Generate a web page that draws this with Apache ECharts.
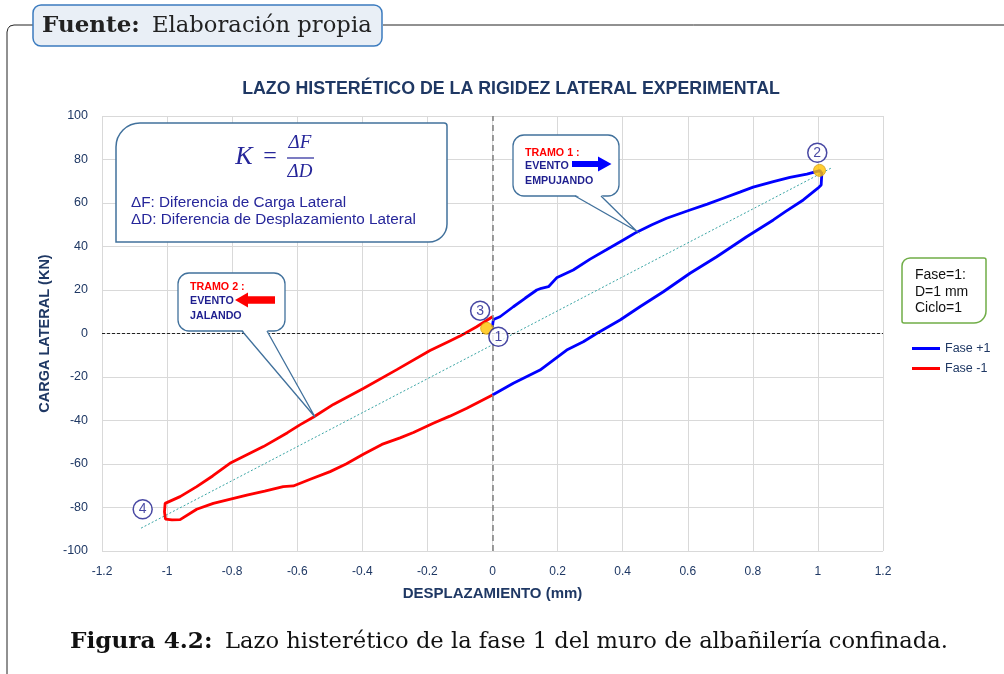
<!DOCTYPE html>
<html><head><meta charset="utf-8">
<script src="https://cdn.jsdelivr.net/npm/echarts@6/dist/echarts.min.js"></script>
<style>html,body{margin:0;padding:0;background:#fff}#c{width:1004px;height:674px}</style>
</head><body><div id="c"></div>
<script>
// ---- data ----
const xRange = [-1.2, 1.2];
const yRange = [-100, 100];
const blueUp = [[0.0,3],[0.001,4.7],[0.003,6.4],[0.023,7.7],[0.064,12.3],[0.1,16.2],[0.136,20],[0.15,20.8],[0.172,21.5],[0.197,25.6],[0.248,29.2],[0.3,34.2],[0.35,38.5],[0.402,43],[0.443,46.6],[0.49,50],[0.535,53],[0.607,56.8],[0.66,59.5],[0.709,62.2],[0.76,65],[0.801,67.3],[0.863,69.8],[0.914,71.8],[0.966,73.3],[1.006,74.9]];
const blueDown = [[1.012,73.6],[1.01,68.3],[1.0,66.8],[0.955,61.4],[0.9,56],[0.863,52.2],[0.781,44.5],[0.689,35.3],[0.607,27.7],[0.525,19.2],[0.453,12.3],[0.392,6.2],[0.32,0],[0.279,-3.8],[0.228,-7.6],[0.146,-16.8],[0.064,-22.9],[0.0,-28.3]];
const redDown = [[0.0,-28.3],[-0.079,-34.4],[-0.131,-38],[-0.182,-41.3],[-0.243,-45.5],[-0.284,-48],[-0.34,-51],[-0.397,-55.5],[-0.45,-60],[-0.499,-63.5],[-0.56,-67],[-0.612,-70.1],[-0.643,-70.4],[-0.7,-72.5],[-0.755,-74.3],[-0.858,-78.1],[-0.909,-80.8],[-0.96,-85.6],[-0.985,-85.7],[-1.005,-85.3],[-1.008,-82],[-1.006,-78.1]];
const redUp = [[-1.006,-78.1],[-0.96,-75],[-0.909,-70.4],[-0.86,-65.5],[-0.807,-59.7],[-0.704,-52],[-0.63,-45.6],[-0.592,-42],[-0.551,-38.5],[-0.489,-32.6],[-0.397,-25.3],[-0.294,-16.6],[-0.192,-7.8],[-0.131,-3.4],[-0.1,-1.2],[-0.05,3],[0.0,7.7]];
const trendLine = [[-1.08,-89.5],[1.04,76]];
const peakPoints = [[1.005,75],[-0.018,2.4]];
const circleLabels = ['1','2','3','4'];
const circlePos = [[0.018,-1.5],[0.998,83.1],[-0.038,10.5],[-1.075,-80.8]];
const seriesNames = ['Fase +1','Fase -1'];

const NAVY = '#1F3864';
const SERIF = '"Liberation Serif", "Times New Roman", serif';
const DSERIF = '"DejaVu Serif", serif';
const SANS = '"Liberation Sans", Arial, sans-serif';
const chart = echarts.init(document.getElementById('c'));

function callout(x,y,w,h,t1,t2,tip){
  const s = '#41719C';
  return [
    {type:'rect', shape:{x:x,y:y,width:w,height:h,r:11}, style:{fill:'#fff',stroke:s,lineWidth:1.3}, z:100},
    {type:'polygon', shape:{points:[[t1,y+h-1.5],tip,[t2,y+h-1.5]]}, style:{fill:'#fff'}, z:101},
    {type:'polyline', shape:{points:[[t1,y+h],tip,[t2,y+h]]}, style:{stroke:s,lineWidth:1.3,fill:null}, z:102}
  ];
}
function txt(x,y,text,font,fill,align,z){
  return {type:'text', x:x, y:y, z:z||110, style:{text:text, font:font, fill:fill, textAlign:align||'left', textVerticalAlign:'middle'}};
}
const g = [];
// outer frame
g.push({type:'polyline', shape:{points:[[33,25],[14,25],[10,26],[8,28.5],[7,32],[7,674]]}, style:{stroke:'#222',lineWidth:1,fill:null}, z:50});
g.push({type:'line', shape:{x1:383,y1:25,x2:1004,y2:25}, style:{stroke:'#222',lineWidth:1}, z:50});
g.push({type:'rect', shape:{x:33,y:5,width:349,height:41,r:8}, style:{fill:'#E9EFF6',stroke:'#3B7BBF',lineWidth:1.5}, z:51});
g.push(txt(42,26,'Fuente:','bold 23px ' + DSERIF,'#222'));
g.push(txt(152,26,'Elaboración propia','22.7px ' + DSERIF,'#222'));
// caption
g.push(txt(70,642,'Figura 4.2:','bold 23.2px ' + DSERIF,'#111'));
g.push(txt(225,642,'Lazo histerético de la fase 1 del muro de albañilería confinada.','22.6px ' + DSERIF,'#111'));
// title
g.push(txt(511,89,'LAZO HISTERÉTICO DE LA RIGIDEZ LATERAL EXPERIMENTAL','bold 17.8px ' + SANS,NAVY,'center'));
// K box
const KC = '#26269A';
g.push({type:'rect', shape:{x:116,y:123,width:331,height:119,r:[24,3,18,0]}, style:{fill:'#fff',stroke:'#41719C',lineWidth:1.5}, z:100});
g.push(txt(244,157,'K','italic 26px ' + SERIF,KC,'center'));
g.push(txt(270,157,'=','24px ' + SERIF,KC,'center'));
g.push(txt(300,143,'ΔF','italic 19px ' + SERIF,KC,'center'));
g.push({type:'line', shape:{x1:287,y1:158,x2:314,y2:158}, style:{stroke:KC,lineWidth:1.2}, z:110});
g.push(txt(300,172,'ΔD','italic 19px ' + SERIF,KC,'center'));
g.push(txt(131,203,'ΔF: Diferencia de Carga Lateral','15.3px ' + SANS,KC));
g.push(txt(131,220,'ΔD: Diferencia de Desplazamiento Lateral','15.3px ' + SANS,KC));
// Tramo 1
g.push(...callout(513,135,106,61,575,601,[636.5,231]));
g.push(txt(525,153,'TRAMO 1 :','bold 10.7px ' + SANS,'#FF0000'));
g.push(txt(525,166,'EVENTO','bold 10.7px ' + SANS,'#1F1F8F'));
g.push(txt(525,181,'EMPUJANDO','bold 10.7px ' + SANS,'#1F1F8F'));
g.push({type:'polygon', shape:{points:[[572,161],[598,161],[598,156.5],[611.5,164],[598,171.5],[598,167],[572,167]]}, style:{fill:'#0000FF'}, z:110});
// Tramo 2
g.push(...callout(178,273,107,58,242,267,[315,417]));
g.push(txt(190,287,'TRAMO 2 :','bold 10.7px ' + SANS,'#FF0000'));
g.push(txt(190,301,'EVENTO','bold 10.7px ' + SANS,'#1F1F8F'));
g.push(txt(190,316,'JALANDO','bold 10.7px ' + SANS,'#1F1F8F'));
g.push({type:'polygon', shape:{points:[[275,296.3],[248,296.3],[248,292.5],[235,300],[248,307.5],[248,303.7],[275,303.7]]}, style:{fill:'#FF0000'}, z:110});
// Legend info box
g.push({type:'rect', shape:{x:902,y:258,width:84,height:65,r:[8,2,12,2]}, style:{fill:'#fff',stroke:'#70AD47',lineWidth:1.5}, z:100});
g.push(txt(915,275,'Fase=1:','14px ' + SANS,'#111'));
g.push(txt(915,292,'D=1 mm','14px ' + SANS,'#111'));
g.push(txt(915,308,'Ciclo=1','14px ' + SANS,'#111'));

const tickFmt = v => String(Math.round(v*10)/10);
chart.setOption({
  animation:false,
  backgroundColor:'#fff',
  grid:{left:102,right:121,top:116,bottom:123},
  legend:{data:seriesNames, orient:'vertical', left:907, top:337, icon:'rect', itemWidth:28, itemHeight:3, itemGap:7,
    textStyle:{color:NAVY, fontSize:12.5, fontFamily:SANS}},
  xAxis:{type:'value', min:xRange[0], max:xRange[1], interval:0.2,
    axisLine:{show:false}, axisTick:{show:false},
    splitLine:{lineStyle:{color:'#D9D9D9',width:1}},
    axisLabel:{formatter:tickFmt, color:NAVY, fontSize:12, margin:15, fontFamily:SANS},
    name:'DESPLAZAMIENTO (mm)', nameLocation:'middle', nameGap:35,
    nameTextStyle:{color:NAVY, fontWeight:'bold', fontSize:15, fontFamily:SANS}},
  yAxis:{type:'value', min:yRange[0], max:yRange[1], interval:20,
    axisLine:{show:false}, axisTick:{show:false},
    splitLine:{lineStyle:{color:'#D9D9D9',width:1}},
    axisLabel:{formatter:tickFmt, color:NAVY, fontSize:12.5, margin:14, fontFamily:SANS},
    name:'CARGA LATERAL (KN)', nameLocation:'middle', nameGap:46,
    nameTextStyle:{color:NAVY, fontWeight:'bold', fontSize:14.5, fontFamily:SANS}},
  series:[
    {name:'trend', type:'line', data:trendLine, showSymbol:false, silent:true, z:2,
      lineStyle:{color:'#3AA5A5', width:1, type:[2,2]},
      markLine:{silent:true, symbol:'none', label:{show:false}, animation:false,
        data:[{xAxis:0, lineStyle:{color:'#7F7F7F', width:1.5, type:[6,4]}},
              {yAxis:0, lineStyle:{color:'#222', width:1, type:[3,2]}}]}},
    {name:seriesNames[0], type:'line', data:blueUp.concat(blueDown), showSymbol:false, z:4,
      lineStyle:{color:'#0000FF', width:2.8}, itemStyle:{color:'#0000FF'}},
    {name:seriesNames[1], type:'line', data:redDown.concat(redUp), showSymbol:false, z:3,
      lineStyle:{color:'#FF0000', width:2.8}, itemStyle:{color:'#FF0000'}},
    {name:'peaks', type:'scatter', data:peakPoints, symbolSize:12, z:5,
      itemStyle:{color:'#FFC000', borderColor:'#D4A017', borderWidth:1}},
    {name:'labels', type:'scatter', data:circlePos.map((p,i)=>({value:p, name:circleLabels[i]})), symbolSize:19, z:6,
      itemStyle:{color:'#fff', borderColor:'#1A1A8C', borderWidth:1.5},
      label:{show:true, position:'inside', formatter:'{b}', color:'#1A1A8C', fontSize:14, fontFamily:SANS}}
  ],
  graphic:g
});
</script></body></html>
